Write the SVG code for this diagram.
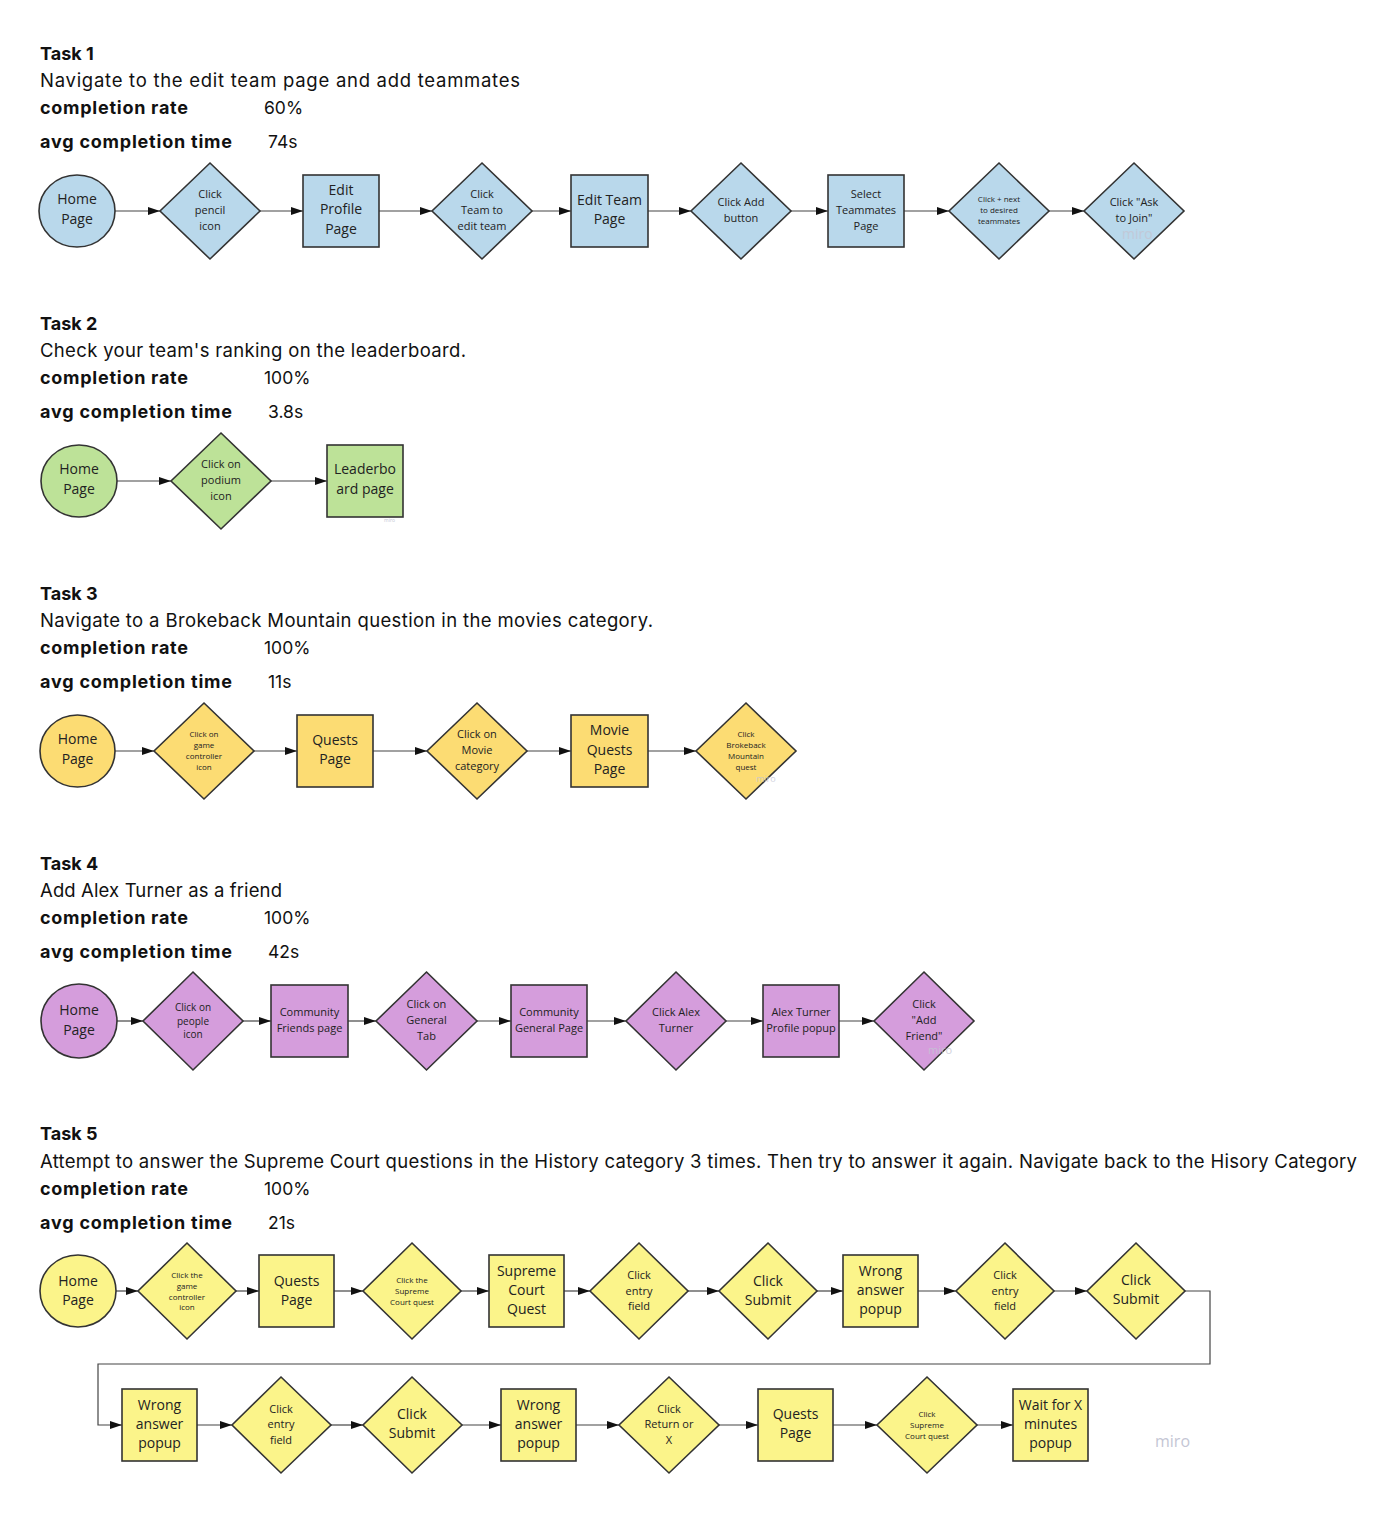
<svg xmlns="http://www.w3.org/2000/svg" width="1398" height="1514" viewBox="0 0 1398 1514">
<defs>
<marker id="arr" markerWidth="12" markerHeight="8" refX="12" refY="4" orient="auto" markerUnits="userSpaceOnUse"><path d="M0,0 L12,4 L0,8 z" fill="#111"/></marker>
</defs>
<style>
.h{font-family:Inter,"Noto Sans","Liberation Sans",sans-serif;fill:#111;}
.hb{font-weight:bold;font-size:18px;}
.hd{font-size:18.5px;}
.hv{font-size:17.5px;}
.s{stroke:#333;stroke-width:1.6;}
.blue{fill:#b9d8eb;}
.green{fill:#bde298;}
.gold{fill:#fcdc73;}
.yel{fill:#fbf48a;}
.pur{fill:#d59ddc;}
.t{font-family:"Open Sans","Noto Sans","Liberation Sans",sans-serif;fill:#222;text-anchor:middle;}
.f14{font-size:14px;}
.f11{font-size:11px;}
.f10{font-size:10px;}
.f8{font-size:8px;}
.c line,.c polyline{stroke:#444;stroke-width:1.2;fill:none;marker-end:url(#arr);}
.wm{font-family:"Open Sans","Noto Sans",sans-serif;fill:#c4c6d4;}
</style>
<rect width="1398" height="1514" fill="#fff"/>

<!-- Headers -->
<g id="headers" class="h">
<text class="hb" x="40" y="60">Task 1</text>
<text class="hd" x="40" y="87" textLength="480">Navigate to the edit team page and add teammates</text>
<text class="hb" x="40" y="114" textLength="148">completion rate</text>
<text class="hv" x="264" y="114">60%</text>
<text class="hb" x="40" y="148" textLength="192">avg completion time</text>
<text class="hv" x="268" y="148">74s</text>

<text class="hb" x="40" y="330">Task 2</text>
<text class="hd" x="40" y="357" textLength="426">Check your team's ranking on the leaderboard.</text>
<text class="hb" x="40" y="384" textLength="148">completion rate</text>
<text class="hv" x="264" y="384">100%</text>
<text class="hb" x="40" y="418" textLength="192">avg completion time</text>
<text class="hv" x="268" y="418">3.8s</text>

<text class="hb" x="40" y="600">Task 3</text>
<text class="hd" x="40" y="627" textLength="613">Navigate to a Brokeback Mountain question in the movies category.</text>
<text class="hb" x="40" y="654" textLength="148">completion rate</text>
<text class="hv" x="264" y="654">100%</text>
<text class="hb" x="40" y="688" textLength="192">avg completion time</text>
<text class="hv" x="268" y="688">11s</text>

<text class="hb" x="40" y="870">Task 4</text>
<text class="hd" x="40" y="897" textLength="242">Add Alex Turner as a friend</text>
<text class="hb" x="40" y="924" textLength="148">completion rate</text>
<text class="hv" x="264" y="924">100%</text>
<text class="hb" x="40" y="958" textLength="192">avg completion time</text>
<text class="hv" x="268" y="958">42s</text>

<text class="hb" x="40" y="1140">Task 5</text>
<text class="hd" x="40" y="1168" textLength="1317">Attempt to answer the Supreme Court questions in the History category 3 times. Then try to answer it again. Navigate back to the Hisory Category</text>
<text class="hb" x="40" y="1195" textLength="148">completion rate</text>
<text class="hv" x="264" y="1195">100%</text>
<text class="hb" x="40" y="1229" textLength="192">avg completion time</text>
<text class="hv" x="268" y="1229">21s</text>
</g>

<!-- Connectors -->
<g id="connectors" class="c">
<line x1="115" y1="211" x2="160" y2="211"/>
<line x1="260" y1="211" x2="303" y2="211"/>
<line x1="379" y1="211" x2="432" y2="211"/>
<line x1="532" y1="211" x2="571" y2="211"/>
<line x1="648" y1="211" x2="691" y2="211"/>
<line x1="791" y1="211" x2="828" y2="211"/>
<line x1="904" y1="211" x2="949" y2="211"/>
<line x1="1049" y1="211" x2="1084" y2="211"/>

<line x1="117" y1="481" x2="171" y2="481"/>
<line x1="271" y1="481" x2="327" y2="481"/>

<line x1="115" y1="751" x2="154" y2="751"/>
<line x1="254" y1="751" x2="297" y2="751"/>
<line x1="373" y1="751" x2="427" y2="751"/>
<line x1="527" y1="751" x2="571" y2="751"/>
<line x1="648" y1="751" x2="696" y2="751"/>

<line x1="117" y1="1021" x2="143" y2="1021"/>
<line x1="243" y1="1021" x2="271" y2="1021"/>
<line x1="348" y1="1021" x2="376" y2="1021"/>
<line x1="477" y1="1021" x2="511" y2="1021"/>
<line x1="587" y1="1021" x2="626" y2="1021"/>
<line x1="726" y1="1021" x2="763" y2="1021"/>
<line x1="839" y1="1021" x2="874" y2="1021"/>

<line x1="116" y1="1291" x2="138" y2="1291"/>
<line x1="236" y1="1291" x2="259" y2="1291"/>
<line x1="334" y1="1291" x2="363" y2="1291"/>
<line x1="461" y1="1291" x2="489" y2="1291"/>
<line x1="564" y1="1291" x2="590" y2="1291"/>
<line x1="688" y1="1291" x2="719" y2="1291"/>
<line x1="817" y1="1291" x2="843" y2="1291"/>
<line x1="918" y1="1291" x2="956" y2="1291"/>
<line x1="1054" y1="1291" x2="1087" y2="1291"/>
<polyline points="1185,1291 1210,1291 1210,1364 98,1364 98,1425 122,1425"/>

<line x1="197" y1="1425" x2="232" y2="1425"/>
<line x1="331" y1="1425" x2="363" y2="1425"/>
<line x1="462" y1="1425" x2="501" y2="1425"/>
<line x1="576" y1="1425" x2="619" y2="1425"/>
<line x1="719" y1="1425" x2="758" y2="1425"/>
<line x1="833" y1="1425" x2="877" y2="1425"/>
<line x1="977" y1="1425" x2="1013" y2="1425"/>
</g>

<!-- Task 1 nodes -->
<g id="t1-home"><ellipse class="s blue" cx="77" cy="211" rx="38" ry="36"/><text class="t f14"><tspan x="77" y="204">Home</tspan><tspan x="77" y="224">Page</tspan></text></g>
<g id="t1-pencil"><polygon class="s blue" points="210,163 260,211 210,259 160,211"/><text class="t f11"><tspan x="210" y="198">Click</tspan><tspan x="210" y="214">pencil</tspan><tspan x="210" y="230">icon</tspan></text></g>
<g id="t1-editprofile"><rect class="s blue" x="303" y="175" width="76" height="72"/><text class="t f14"><tspan x="341" y="195">Edit</tspan><tspan x="341" y="214">Profile</tspan><tspan x="341" y="234">Page</tspan></text></g>
<g id="t1-clickteam"><polygon class="s blue" points="482,163 532,211 482,259 432,211"/><text class="t f11"><tspan x="482" y="198">Click</tspan><tspan x="482" y="214">Team to</tspan><tspan x="482" y="230">edit team</tspan></text></g>
<g id="t1-editteam"><rect class="s blue" x="571" y="175" width="77" height="72"/><text class="t f14"><tspan x="609.5" y="205">Edit Team</tspan><tspan x="609.5" y="224">Page</tspan></text></g>
<g id="t1-clickadd"><polygon class="s blue" points="741,163 791,211 741,259 691,211"/><text class="t f11"><tspan x="741" y="206">Click Add</tspan><tspan x="741" y="222">button</tspan></text></g>
<g id="t1-select"><rect class="s blue" x="828" y="175" width="76" height="72"/><text class="t f11"><tspan x="866" y="198">Select</tspan><tspan x="866" y="214">Teammates</tspan><tspan x="866" y="230">Page</tspan></text></g>
<g id="t1-plus"><polygon class="s blue" points="999,163 1049,211 999,259 949,211"/><text class="t f8"><tspan x="999" y="202">Click + next</tspan><tspan x="999" y="213">to desired</tspan><tspan x="999" y="224">teammates</tspan></text></g>
<g id="t1-ask"><polygon class="s blue" points="1134,163 1184,211 1134,259 1084,211"/><text class="t f11"><tspan x="1134" y="206">Click "Ask</tspan><tspan x="1134" y="222">to Join"</tspan></text><text class="wm" x="1122" y="239" font-size="14" opacity="0.8">miro</text></g>

<!-- Task 2 nodes -->
<g id="t2-home"><ellipse class="s green" cx="79" cy="481" rx="38" ry="36"/><text class="t f14"><tspan x="79" y="474">Home</tspan><tspan x="79" y="494">Page</tspan></text></g>
<g id="t2-podium"><polygon class="s green" points="221,433 271,481 221,529 171,481"/><text class="t f11"><tspan x="221" y="468">Click on</tspan><tspan x="221" y="484">podium</tspan><tspan x="221" y="500">icon</tspan></text></g>
<g id="t2-leader"><rect class="s green" x="327" y="445" width="76" height="72"/><text class="t f14"><tspan x="365" y="474">Leaderbo</tspan><tspan x="365" y="494">ard page</tspan></text><text class="wm" x="384" y="522" font-size="5">miro</text></g>

<!-- Task 3 nodes -->
<g id="t3-home"><ellipse class="s gold" cx="77.5" cy="751" rx="37.5" ry="36"/><text class="t f14"><tspan x="77.5" y="744">Home</tspan><tspan x="77.5" y="764">Page</tspan></text></g>
<g id="t3-controller"><polygon class="s gold" points="204,703 254,751 204,799 154,751"/><text class="t f8"><tspan x="204" y="737">Click on</tspan><tspan x="204" y="748">game</tspan><tspan x="204" y="759">controller</tspan><tspan x="204" y="770">icon</tspan></text></g>
<g id="t3-quests"><rect class="s gold" x="297" y="715" width="76" height="72"/><text class="t f14"><tspan x="335" y="745">Quests</tspan><tspan x="335" y="764">Page</tspan></text></g>
<g id="t3-movie"><polygon class="s gold" points="477,703 527,751 477,799 427,751"/><text class="t f11"><tspan x="477" y="738">Click on</tspan><tspan x="477" y="754">Movie</tspan><tspan x="477" y="770">category</tspan></text></g>
<g id="t3-moviequests"><rect class="s gold" x="571" y="715" width="77" height="72"/><text class="t f14"><tspan x="609.5" y="735">Movie</tspan><tspan x="609.5" y="755">Quests</tspan><tspan x="609.5" y="774">Page</tspan></text></g>
<g id="t3-brokeback"><polygon class="s gold" points="746,703 796,751 746,799 696,751"/><text class="t f8"><tspan x="746" y="737">Click</tspan><tspan x="746" y="748">Brokeback</tspan><tspan x="746" y="759">Mountain</tspan><tspan x="746" y="770">quest</tspan></text><text class="wm" x="756" y="782" font-size="9" opacity="0.8">miro</text></g>

<!-- Task 4 nodes -->
<g id="t4-home"><ellipse class="s pur" cx="79" cy="1021" rx="38" ry="37"/><text class="t f14"><tspan x="79" y="1015">Home</tspan><tspan x="79" y="1035">Page</tspan></text></g>
<g id="t4-people"><polygon class="s pur" points="193,972 243,1021 193,1070 143,1021"/><text class="t f10"><tspan x="193" y="1011">Click on</tspan><tspan x="193" y="1025">people</tspan><tspan x="193" y="1038">icon</tspan></text></g>
<g id="t4-friends"><rect class="s pur" x="271" y="985" width="77" height="72"/><text class="t f11"><tspan x="309.5" y="1016">Community</tspan><tspan x="309.5" y="1032">Friends page</tspan></text></g>
<g id="t4-general"><polygon class="s pur" points="426.5,972 477,1021 426.5,1070 376,1021"/><text class="t f11"><tspan x="426.5" y="1008">Click on</tspan><tspan x="426.5" y="1024">General</tspan><tspan x="426.5" y="1040">Tab</tspan></text></g>
<g id="t4-generalpage"><rect class="s pur" x="511" y="985" width="76" height="72"/><text class="t f11"><tspan x="549" y="1016">Community</tspan><tspan x="549" y="1032">General Page</tspan></text></g>
<g id="t4-alex"><polygon class="s pur" points="676,972 726,1021 676,1070 626,1021"/><text class="t f11"><tspan x="676" y="1016">Click Alex</tspan><tspan x="676" y="1032">Turner</tspan></text></g>
<g id="t4-profile"><rect class="s pur" x="763" y="985" width="76" height="72"/><text class="t f11"><tspan x="801" y="1016">Alex Turner</tspan><tspan x="801" y="1032">Profile popup</tspan></text></g>
<g id="t4-addfriend"><polygon class="s pur" points="924,972 974,1021 924,1070 874,1021"/><text class="t f11"><tspan x="924" y="1008">Click</tspan><tspan x="924" y="1024">"Add</tspan><tspan x="924" y="1040">Friend"</tspan></text><text class="wm" x="928" y="1054" font-size="11" opacity="0.8">miro</text></g>

<!-- Task 5 row 1 -->
<g id="t5-home"><ellipse class="s yel" cx="78" cy="1291" rx="38" ry="36"/><text class="t f14"><tspan x="78" y="1286">Home</tspan><tspan x="78" y="1305">Page</tspan></text></g>
<g id="t5-controller"><polygon class="s yel" points="187,1243 236,1291 187,1339 138,1291"/><text class="t f8"><tspan x="187" y="1278">Click the</tspan><tspan x="187" y="1289">game</tspan><tspan x="187" y="1300">controller</tspan><tspan x="187" y="1310">icon</tspan></text></g>
<g id="t5-quests"><rect class="s yel" x="259" y="1255" width="75" height="72"/><text class="t f14"><tspan x="296.5" y="1286">Quests</tspan><tspan x="296.5" y="1305">Page</tspan></text></g>
<g id="t5-supreme"><polygon class="s yel" points="412,1243 461,1291 412,1339 363,1291"/><text class="t f8"><tspan x="412" y="1283">Click the</tspan><tspan x="412" y="1294">Supreme</tspan><tspan x="412" y="1305">Court quest</tspan></text></g>
<g id="t5-supremequest"><rect class="s yel" x="489" y="1255" width="75" height="72"/><text class="t f14"><tspan x="526.5" y="1276">Supreme</tspan><tspan x="526.5" y="1295">Court</tspan><tspan x="526.5" y="1314">Quest</tspan></text></g>
<g id="t5-entry1"><polygon class="s yel" points="639,1243 688,1291 639,1339 590,1291"/><text class="t f11"><tspan x="639" y="1279">Click</tspan><tspan x="639" y="1295">entry</tspan><tspan x="639" y="1310">field</tspan></text></g>
<g id="t5-submit1"><polygon class="s yel" points="768,1243 817,1291 768,1339 719,1291"/><text class="t f14"><tspan x="768" y="1286">Click</tspan><tspan x="768" y="1305">Submit</tspan></text></g>
<g id="t5-wrong1"><rect class="s yel" x="843" y="1255" width="75" height="72"/><text class="t f14"><tspan x="880.5" y="1276">Wrong</tspan><tspan x="880.5" y="1295">answer</tspan><tspan x="880.5" y="1314">popup</tspan></text></g>
<g id="t5-entry2"><polygon class="s yel" points="1005,1243 1054,1291 1005,1339 956,1291"/><text class="t f11"><tspan x="1005" y="1279">Click</tspan><tspan x="1005" y="1295">entry</tspan><tspan x="1005" y="1310">field</tspan></text></g>
<g id="t5-submit2"><polygon class="s yel" points="1136,1243 1185,1291 1136,1339 1087,1291"/><text class="t f14"><tspan x="1136" y="1285">Click</tspan><tspan x="1136" y="1304">Submit</tspan></text></g>

<!-- Task 5 row 2 -->
<g id="t5-wrong2"><rect class="s yel" x="122" y="1389" width="75" height="72"/><text class="t f14"><tspan x="159.5" y="1410">Wrong</tspan><tspan x="159.5" y="1429">answer</tspan><tspan x="159.5" y="1448">popup</tspan></text></g>
<g id="t5-entry3"><polygon class="s yel" points="281,1377 331,1425 281,1473 232,1425"/><text class="t f11"><tspan x="281" y="1413">Click</tspan><tspan x="281" y="1428">entry</tspan><tspan x="281" y="1444">field</tspan></text></g>
<g id="t5-submit3"><polygon class="s yel" points="412,1377 462,1425 412,1473 363,1425"/><text class="t f14"><tspan x="412" y="1419">Click</tspan><tspan x="412" y="1438">Submit</tspan></text></g>
<g id="t5-wrong3"><rect class="s yel" x="501" y="1389" width="75" height="72"/><text class="t f14"><tspan x="538.5" y="1410">Wrong</tspan><tspan x="538.5" y="1429">answer</tspan><tspan x="538.5" y="1448">popup</tspan></text></g>
<g id="t5-return"><polygon class="s yel" points="669,1377 719,1425 669,1473 619,1425"/><text class="t f11"><tspan x="669" y="1413">Click</tspan><tspan x="669" y="1428">Return or</tspan><tspan x="669" y="1444">X</tspan></text></g>
<g id="t5-quests2"><rect class="s yel" x="758" y="1389" width="75" height="72"/><text class="t f14"><tspan x="795.5" y="1419">Quests</tspan><tspan x="795.5" y="1438">Page</tspan></text></g>
<g id="t5-supreme2"><polygon class="s yel" points="927,1377 977,1425 927,1473 877,1425"/><text class="t f8"><tspan x="927" y="1417">Click</tspan><tspan x="927" y="1428">Supreme</tspan><tspan x="927" y="1439">Court quest</tspan></text></g>
<g id="t5-wait"><rect class="s yel" x="1013" y="1389" width="75" height="72"/><text class="t f14"><tspan x="1050.5" y="1410">Wait for X</tspan><tspan x="1050.5" y="1429">minutes</tspan><tspan x="1050.5" y="1448">popup</tspan></text></g>

<text class="wm" x="1155" y="1447" font-size="16" fill="#b6b9c8">miro</text>
</svg>
